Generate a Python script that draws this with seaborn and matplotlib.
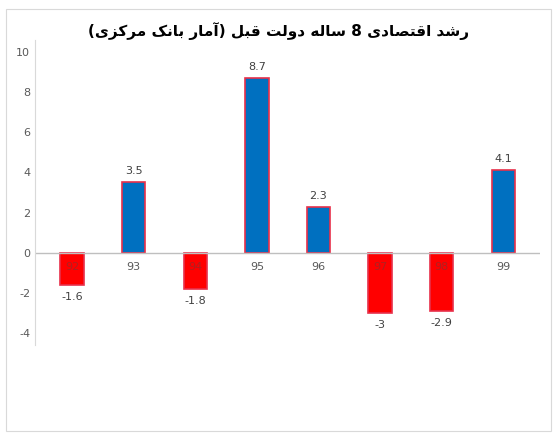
import matplotlib
matplotlib.use("Agg")
import matplotlib.pyplot as plt
import pandas as pd
import seaborn as sns

years = ["92", "93", "94", "95", "96", "97", "98", "99"]
growth = [-1.6, 3.5, -1.8, 8.7, 2.3, -3, -2.9, 4.1]
value_labels = ["-1.6", "3.5", "-1.8", "8.7", "2.3", "-3", "-2.9", "4.1"]
title = "رشد اقتصادی 8 ساله دولت قبل (آمار بانک مرکزی)"

# minimal Persian shaping with presentation forms (iso, fin, ini, med)
FORMS = {
    "ا": (0xFE8D, 0xFE8E), "آ": (0xFE81, 0xFE82), "د": (0xFEA9, 0xFEAA),
    "ر": (0xFEAD, 0xFEAE), "ز": (0xFEAF, 0xFEB0), "و": (0xFEED, 0xFEEE),
    "ب": (0xFE8F, 0xFE90, 0xFE91, 0xFE92), "ت": (0xFE95, 0xFE96, 0xFE97, 0xFE98),
    "س": (0xFEB1, 0xFEB2, 0xFEB3, 0xFEB4), "ش": (0xFEB5, 0xFEB6, 0xFEB7, 0xFEB8),
    "ص": (0xFEB9, 0xFEBA, 0xFEBB, 0xFEBC), "ق": (0xFED5, 0xFED6, 0xFED7, 0xFED8),
    "ل": (0xFEDD, 0xFEDE, 0xFEDF, 0xFEE0), "م": (0xFEE1, 0xFEE2, 0xFEE3, 0xFEE4),
    "ن": (0xFEE5, 0xFEE6, 0xFEE7, 0xFEE8), "ه": (0xFEE9, 0xFEEA, 0xFEEB, 0xFEEC),
    "ک": (0xFB8E, 0xFB8F, 0xFB90, 0xFB91), "ی": (0xFBFC, 0xFBFD, 0xFBFE, 0xFBFF),
}


def shape(text):
    out = []
    for i, ch in enumerate(text):
        if ch not in FORMS:
            out.append({"(": ")", ")": "("}.get(ch, ch))
            continue
        prev = text[i - 1] if i > 0 else ""
        nxt = text[i + 1] if i + 1 < len(text) else ""
        join_prev = prev in FORMS and len(FORMS[prev]) == 4
        join_next = nxt in FORMS and len(FORMS[ch]) == 4
        f = FORMS[ch]
        if join_prev and join_next:
            cp = f[3]
        elif join_prev:
            cp = f[1]
        elif join_next:
            cp = f[2]
        else:
            cp = f[0]
        out.append(chr(cp))
    return "".join(reversed(out))


plt.rcParams["axes.unicode_minus"] = False

df = pd.DataFrame({"year": years, "growth": growth,
                   "sign": ["neg" if g < 0 else "pos" for g in growth]})

fig = plt.figure(figsize=(5.57, 4.33), dpi=100)
ax = fig.add_axes([0.063, 0.203, 0.907, 0.705])
sns.barplot(data=df, x="year", y="growth", hue="sign", dodge=False, width=0.38,
            palette={"neg": "#FF0000", "pos": "#0070C0"}, edgecolor="#E8304A",
            saturation=1, linewidth=1.2, legend=False, ax=ax)

ax.set_ylim(-4.6, 10.6)
ax.set_xlim(-0.6, 7.6)
ax.set_yticks(range(-4, 11, 2))
ax.tick_params(axis="y", length=0, labelsize=8, labelcolor="#595959")
ax.set_xticks([])
ax.set_xlabel("")
ax.set_ylabel("")
for s in ["top", "right", "bottom"]:
    ax.spines[s].set_visible(False)
ax.spines["left"].set_color("#D9D9D9")
ax.axhline(0, color="#BFBFBF", linewidth=1)

for i, (y, g, lab) in enumerate(zip(years, growth, value_labels)):
    ax.text(i, -0.7, y, ha="center", va="center", fontsize=8,
            color="#595959" if g >= 0 else "#B02020")
    if g >= 0:
        ax.text(i, g + 0.3, lab, ha="center", va="bottom", fontsize=8, color="#404040")
    else:
        ax.text(i, g - 0.35, lab, ha="center", va="top", fontsize=8, color="#404040")

fig.text(0.5, 0.928, shape(title), ha="center", va="center", fontsize=11,
         fontweight="bold", family="DejaVu Sans", color="#000000")
fig.patches.append(plt.Rectangle((0.01, 0.005), 0.98, 0.975, transform=fig.transFigure,
                                 fill=False, edgecolor="#D9D9D9", linewidth=0.8))

fig.savefig("out.png", dpi=100)
